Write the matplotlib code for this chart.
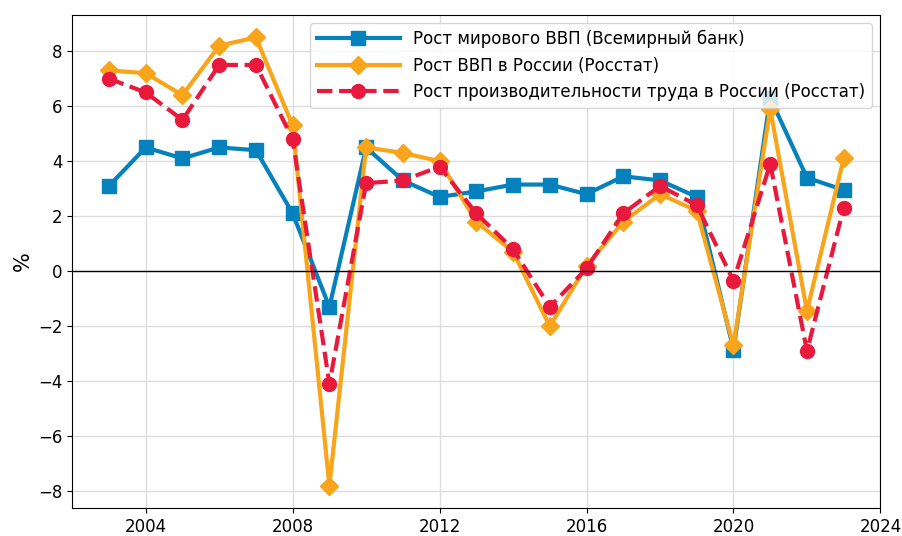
import numpy as np
import matplotlib.pyplot as plt

anos = list(range(2003, 2024))

vvp_mir = [3.1, 4.5, 4.1, 4.5, 4.4, 2.1, -1.3, 4.5, 3.3, 2.7, 2.9, 3.15, 3.15, 2.8,
           3.45, 3.3, 2.7, -2.85, 6.3, 3.4, 2.95]
vvp_rus = [7.3, 7.2, 6.4, 8.2, 8.5, 5.3, -7.8, 4.5, 4.3, 4.0, 1.8, 0.7, -2.0, 0.2,
           1.8, 2.8, 2.2, -2.7, 5.9, -1.45, 4.1]
produtividade = [7.0, 6.5, 5.5, 7.5, 7.5, 4.8, -4.1, 3.2, 3.3, 3.8, 2.1, 0.8, -1.3, 0.1,
                 2.1, 3.1, 2.4, -0.35, 3.9, -2.9, 2.3]

rotulos = [
    'Рост мирового ВВП (Всемирный банк)',
    'Рост ВВП в России (Росстат)',
    'Рост производительности труда в России (Росстат)',
]

fig, ax = plt.subplots(figsize=(9.03, 5.36), dpi=100)

ax.plot(anos, vvp_mir, color='#0581bd', marker='s', markersize=10, linewidth=3,
        label=rotulos[0])
ax.plot(anos, vvp_rus, color='#f8a51c', marker='D', markersize=9, linewidth=3,
        label=rotulos[1])
ax.plot(anos, produtividade, color='#e8193c', marker='o', markersize=10, linewidth=3,
        linestyle='--', label=rotulos[2])

ax.axhline(0, color='black', linewidth=1)
ax.grid(True, color='#dddddd', linewidth=1)
ax.set_axisbelow(True)

ax.set_xticks([2004, 2008, 2012, 2016, 2020, 2024])
ax.tick_params(labelsize=12)
ax.set_ylabel('%', fontsize=15)
ax.legend(loc='upper right', fontsize=12, handlelength=5)

plt.subplots_adjust(left=0.08, right=0.975, top=0.972, bottom=0.052)
plt.savefig('out.png', dpi=100)
plt.close()
